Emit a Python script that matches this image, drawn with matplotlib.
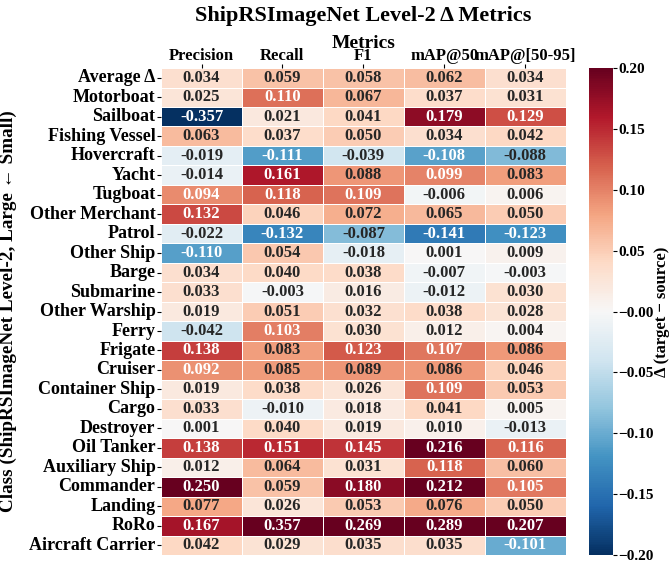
import numpy as np
import pandas as pd
import seaborn as sns
import matplotlib.pyplot as plt

classes = ["Average Δ", "Motorboat", "Sailboat", "Fishing Vessel", "Hovercraft", "Yacht",
           "Tugboat", "Other Merchant", "Patrol", "Other Ship", "Barge", "Submarine",
           "Other Warship", "Ferry", "Frigate", "Cruiser", "Container Ship", "Cargo",
           "Destroyer", "Oil Tanker", "Auxiliary Ship", "Commander", "Landing", "RoRo",
           "Aircraft Carrier"]
metrics = ["Precision", "Recall", "F1", "mAP@50", "mAP@[50-95]"]

precision = [0.034, 0.025, -0.357, 0.063, -0.019, -0.014, 0.094, 0.132, -0.022, -0.110,
             0.034, 0.033, 0.019, -0.042, 0.138, 0.092, 0.019, 0.033, 0.001, 0.138,
             0.012, 0.250, 0.077, 0.167, 0.042]
recall = [0.059, 0.110, 0.021, 0.037, -0.111, 0.161, 0.118, 0.046, -0.132, 0.054,
          0.040, -0.003, 0.051, 0.103, 0.083, 0.085, 0.038, -0.010, 0.040, 0.151,
          0.064, 0.059, 0.026, 0.357, 0.029]
f1 = [0.058, 0.067, 0.041, 0.050, -0.039, 0.088, 0.109, 0.072, -0.087, -0.018,
      0.038, 0.016, 0.032, 0.030, 0.123, 0.089, 0.026, 0.018, 0.019, 0.145,
      0.031, 0.180, 0.053, 0.269, 0.035]
map50 = [0.062, 0.037, 0.179, 0.034, -0.108, 0.099, -0.006, 0.065, -0.141, 0.001,
         -0.007, -0.012, 0.038, 0.012, 0.107, 0.086, 0.109, 0.041, 0.010, 0.216,
         0.118, 0.212, 0.076, 0.289, 0.035]
map5095 = [0.034, 0.031, 0.129, 0.042, -0.088, 0.083, 0.006, 0.050, -0.123, 0.009,
           -0.003, 0.030, 0.028, 0.004, 0.086, 0.046, 0.053, 0.005, -0.013, 0.116,
           0.060, 0.105, 0.050, 0.207, -0.101]

df = pd.DataFrame({"Precision": precision, "Recall": recall, "F1": f1,
                   "mAP@50": map50, "mAP@[50-95]": map5095}, index=classes)

plt.rcParams["font.family"] = ["Liberation Serif", "DejaVu Serif"]
plt.rcParams["font.weight"] = "bold"

fig = plt.figure(figsize=(6.69, 5.61), dpi=100)
ax = fig.add_axes([0.2407, 0.0107, 0.605, 0.868])
cax = fig.add_axes([0.8804, 0.0107, 0.0359, 0.868])

sns.heatmap(df, ax=ax, cbar_ax=cax, cmap="RdBu_r", vmin=-0.2, vmax=0.2,
            annot=True, fmt=".3f", linewidths=0.5, linecolor="white",
            annot_kws={"fontsize": 12, "fontweight": "bold"})

ax.xaxis.tick_top()
ax.xaxis.set_label_position("top")
ax.set_xlabel("Metrics", fontsize=14, fontweight="bold", labelpad=0)
ax.set_ylabel("Class (ShipRSImageNet Level-2, Large ← Small)", fontsize=13.8, fontweight="bold")
ax.yaxis.set_label_coords(-0.355, 0.5)
ax.set_xticklabels(metrics, fontsize=12, fontweight="bold", rotation=0)
ax.set_yticklabels(classes, fontsize=13, fontweight="bold", rotation=0)
ax.tick_params(axis="x", length=3, pad=0)
ax.tick_params(axis="y", length=3, pad=1)
ax.set_title("ShipRSImageNet Level-2 Δ Metrics", fontsize=16, fontweight="bold", pad=34)

ticks = np.arange(-0.2, 0.201, 0.05)
cax.set_yticks(ticks)
cax.set_yticklabels([f"{v:.2f}".replace("-", "−") for v in ticks], fontsize=11, fontweight="bold")
cax.tick_params(length=3, pad=1)
cax.set_ylabel("Δ (target − source)", fontsize=12, fontweight="bold", labelpad=0)

fig.savefig("out.png", dpi=100)
